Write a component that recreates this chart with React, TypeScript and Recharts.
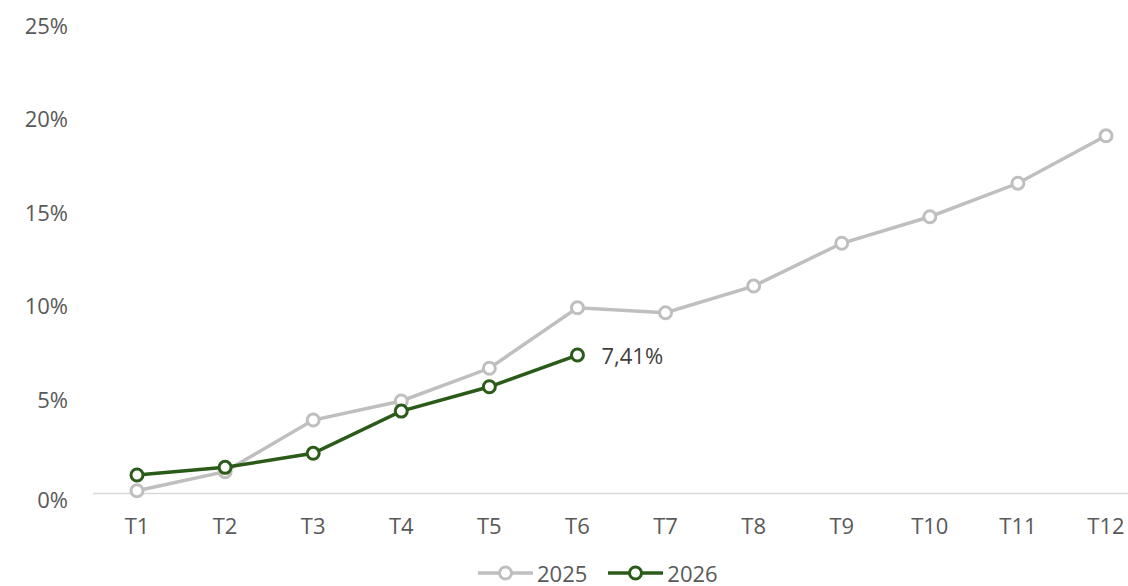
import { LineChart, Line, XAxis, YAxis, Legend, LabelList } from 'recharts';

const months = ['T1', 'T2', 'T3', 'T4', 'T5', 'T6', 'T7', 'T8', 'T9', 'T10', 'T11', 'T12'];
const y2025 = [0.15, 1.17, 3.93, 4.95, 6.7, 9.94, 9.67, 11.1, 13.39, 14.81, 16.6, 19.14];
const y2026 = [0.99, 1.4, 2.15, 4.41, 5.71, 7.41];
const yTicks = [0, 5, 10, 15, 20, 25];

const GREY = '#bfbfbf';
const GREEN = '#2a5b18';
const FONT = '"Open Sans", "Liberation Sans", sans-serif';

const data = months.map((m, i) => ({ month: m, a: y2025[i], b: y2026[i] ?? null }));

const XTick = ({ x, y, payload }: any) => (
  <text x={x} y={y + 38} textAnchor="middle" fill="#595959" fontSize={22} fontFamily={FONT}>
    {payload.value}
  </text>
);

const YTick = ({ x, y, payload }: any) => (
  <text x={x - 23} y={y + (payload.value === 0 ? 14.8 : 7.5)} textAnchor="end" fill="#595959" fontSize={22} fontFamily={FONT}>
    {payload.value}%
  </text>
);

const LastLabel = ({ x, y, index, value }: any) =>
  index === y2026.length - 1 ? (
    <text x={x + 24} y={y + 9} fill="#404040" fontSize={22} fontFamily={FONT}>
      {Number(value).toFixed(2).replace('.', ',')}%
    </text>
  ) : null;

const LegendIcon = ({ color }: { color: string }) => (
  <svg width={55} height={24}>
    <line x1={0} y1={12} x2={55} y2={12} stroke={color} strokeWidth={3.5} />
    <circle cx={27.5} cy={12} r={6} fill="#fff" stroke={color} strokeWidth={3} />
  </svg>
);

const LegendBox = () => (
  <div style={{ display: 'flex', alignItems: 'center', height: 24, lineHeight: '24px', paddingLeft: 478, fontFamily: FONT, fontSize: 22, color: '#595959' }}>
    <LegendIcon color={GREY} />
    <span style={{ marginLeft: 4, marginRight: 21 }}>2025</span>
    <LegendIcon color={GREEN} />
    <span style={{ marginLeft: 4 }}>2026</span>
  </div>
);

export default function App() {
  return (
    <div style={{ position: 'absolute', left: 0, top: 0, background: '#fff', fontFamily: FONT }}>
      <LineChart width={1128} height={586} data={data} margin={{ top: 26.3, right: 0, bottom: 0, left: 0 }}>
        <XAxis
          dataKey="month"
          height={68.5}
          padding={{ left: 44, right: 22 }}
          tickLine={false}
          tickSize={0}
          axisLine={{ stroke: '#d9d9d9', strokeWidth: 1.5 }}
          tick={<XTick />}
          interval={0}
        />
        <YAxis
          width={93}
          domain={[0, 25]}
          ticks={yTicks}
          axisLine={false}
          tickLine={false}
          tickSize={0}
          tick={<YTick />}
        />
        <Legend
          verticalAlign="bottom"
          content={<LegendBox />}
          wrapperStyle={{ left: 0, bottom: 1, width: 1128, height: 24 }}
        />
        <Line
          dataKey="a"
          name="2025"
          stroke={GREY}
          strokeWidth={3.5}
          dot={{ r: 6, fill: '#fff', stroke: GREY, strokeWidth: 3 }}
          activeDot={false}
          isAnimationActive={false}
        />
        <Line
          dataKey="b"
          name="2026"
          stroke={GREEN}
          strokeWidth={3.5}
          dot={{ r: 6, fill: '#fff', stroke: GREEN, strokeWidth: 3 }}
          activeDot={false}
          isAnimationActive={false}
        >
          <LabelList dataKey="b" content={<LastLabel />} />
        </Line>
      </LineChart>
    </div>
  );
}
